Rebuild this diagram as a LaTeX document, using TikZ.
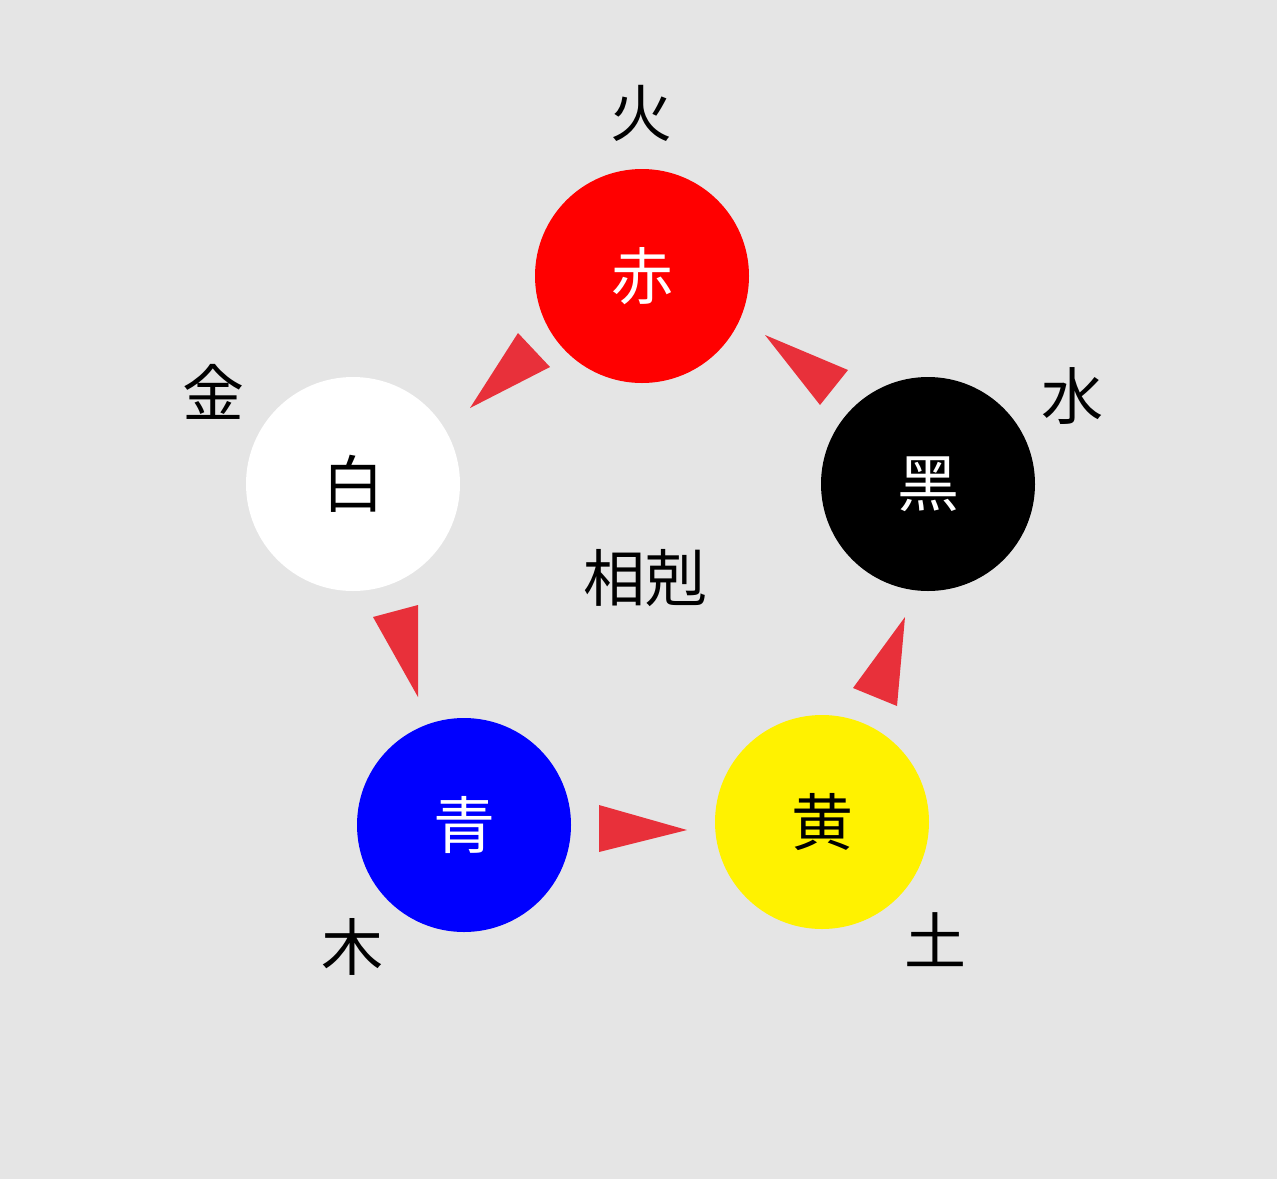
\documentclass[tikz,border=0pt]{standalone}
\usepackage{fontspec}
\newfontfamily\cjk{Noto Sans CJK JP}
\definecolor{bg}{HTML}{E5E5E5}
\definecolor{tri}{HTML}{E8303A}
\begin{document}
\begin{tikzpicture}[x=1pt,y=-1pt,
  elem/.style={circle,minimum size=214pt,inner sep=0pt,font=\cjk\fontsize{62}{62}\selectfont},
  lab/.style={font=\cjk\fontsize{62}{62}\selectfont},
  tr/.style={fill=tri}]
\fill[bg] (0,0) rectangle (1277,1179);
\node[elem,fill=red,text=white] (fire) at (642,276) {赤};
\node[elem,fill=black,text=white] (water) at (928,484) {黑};
\node[elem,fill=yellow,text=black] (earth) at (822,822) {黄};
\node[elem,fill=blue,text=white] (wood) at (464,825) {青};
\node[elem,fill=white,text=black] (metal) at (353,484) {白};
\node[lab] (lf) at (641,113) {火};
\node[lab] (lw) at (1072,396) {水};
\node[lab] (le) at (935,940) {土};
\node[lab] (lwd) at (352,947) {木};
\node[lab] (lm) at (213,392) {金};
\node[lab] (c) at (645,578) {相剋};
\fill[tr] (470,408) -- (518,333) -- (550,367) -- cycle;
\fill[tr] (765,335) -- (848,370) -- (820,405) -- cycle;
\fill[tr] (905,617) -- (897,706) -- (853,688) -- cycle;
\fill[tr] (687,830) -- (599,805) -- (599,852) -- cycle;
\fill[tr] (418,697) -- (373,617) -- (418,605) -- cycle;
\end{tikzpicture}
\end{document}
